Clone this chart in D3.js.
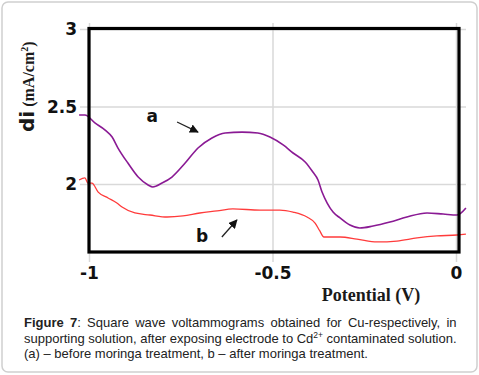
<!DOCTYPE html>
<html><head><meta charset="utf-8">
<script src="https://cdn.jsdelivr.net/npm/d3@7/dist/d3.min.js"></script>
<style>body{margin:0;background:#fff}svg{display:block}</style>
</head><body>
<svg id="c" width="479" height="375"></svg>
<script>
// ---- data ----
const xTicks = [-1, -0.5, 0];
const xTickLabels = ["-1", "-0.5", "0"];
const yTicks = [2, 2.5, 3];
const yTickLabels = ["2", "2.5", "3"];
const seriesNames = ["a", "b"];
const potentialA = [-1.027,-1.011,-0.984,-0.956,-0.937,-0.921,-0.894,-0.866,-0.839,-0.826,
  -0.801,-0.774,-0.738,-0.703,-0.665,-0.629,-0.583,-0.540,-0.507,-0.471,
  -0.444,-0.411,-0.390,-0.376,-0.365,-0.351,-0.335,-0.316,-0.289,-0.262,
  -0.226,-0.180,-0.134,-0.079,-0.035,0.003,0.027];
const currentA = [2.445,2.445,2.394,2.348,2.303,2.232,2.135,2.045,1.994,1.981,
  2.006,2.045,2.135,2.232,2.297,2.329,2.335,2.329,2.303,2.252,
  2.200,2.142,2.077,2.026,1.948,1.877,1.819,1.781,1.735,1.716,
  1.729,1.755,1.787,1.813,1.806,1.800,1.845];
const potentialB = [-1.027,-1.011,-1.003,-0.992,-0.975,-0.948,-0.924,-0.910,-0.875,-0.834,
  -0.787,-0.744,-0.698,-0.651,-0.608,-0.534,-0.480,-0.444,-0.406,-0.384,
  -0.371,-0.360,-0.316,-0.270,-0.215,-0.161,-0.106,-0.052,0.003,0.027];
const currentB = [2.026,2.039,2.006,2.006,1.948,1.910,1.877,1.852,1.813,1.800,
  1.787,1.794,1.813,1.826,1.839,1.832,1.832,1.819,1.787,1.748,
  1.697,1.658,1.658,1.645,1.626,1.632,1.652,1.665,1.671,1.677];
// annotation anchors in data units: [labelX, labelY, arrowX1, arrowY1, arrowX2, arrowY2]
const annotA = [-0.828, 2.40, -0.760, 2.40, -0.703, 2.335];
const annotB = [-0.692, 1.626, -0.638, 1.658, -0.597, 1.768];
const xTitle = "Potential (V)";
const captionLines = [
  [{t:"Figure 7", b:true}, {t:": Square wave voltammograms obtained for Cu-respectively, in"}],
  [{t:"supporting solution, after exposing electrode to Cd"}, {t:"2+", sup:true}, {t:" contaminated solution."}],
  [{t:"(a) \u2013 before moringa treatment, b \u2013 after moringa treatment."}]
];

// ---- drawing ----
const svg = d3.select("#c");
const x = d3.scaleLinear().domain([-1, 0]).range([89, 456]);
const y = d3.scaleLinear().domain([2, 3]).range([184, 29]);
const box = {l: 89, r: 459, t: 28.5, b: 252};
const tickFont = "'DejaVu Sans', Verdana, sans-serif";

// outer rounded frame
svg.append("rect").attr("x", 2).attr("y", 2).attr("width", 475).attr("height", 370)
  .attr("rx", 6).attr("fill", "#fff").attr("stroke", "#cfcfcf").attr("stroke-width", 1.5);

// y axis with gridlines
const gy = svg.append("g").attr("transform", "translate(80,0)")
  .call(d3.axisLeft(y).tickValues(yTicks).tickSize(-386).tickPadding(3)
    .tickFormat((d, i) => yTickLabels[i]));
gy.select(".domain").remove();
gy.selectAll("line").attr("stroke", "#d9d9d9").attr("stroke-width", 1.5);
gy.selectAll("text").attr("font-family", tickFont).attr("font-weight", "bold")
  .attr("font-size", 17).attr("fill", "#111").attr("dy", "0.33em");

// x axis with gridlines
const gx = svg.append("g").attr("transform", "translate(0,23)")
  .call(d3.axisBottom(x).tickValues(xTicks).tickSize(239).tickPadding(5)
    .tickFormat((d, i) => xTickLabels[i]));
gx.select(".domain").remove();
gx.selectAll("line").attr("stroke", "#d9d9d9").attr("stroke-width", 1.5);
gx.selectAll("text").attr("font-family", tickFont).attr("font-weight", "bold")
  .attr("font-size", 17).attr("fill", "#111");

// curves
const line = d3.line().x(d => x(d[0])).y(d => y(d[1])).curve(d3.curveMonotoneX);
svg.append("path").datum(potentialB.map((p, i) => [p, currentB[i]]))
  .attr("d", line).attr("fill", "none").attr("stroke", "#ff3b3b").attr("stroke-width", 1.3);
svg.append("path").datum(potentialA.map((p, i) => [p, currentA[i]]))
  .attr("d", line).attr("fill", "none").attr("stroke", "#8a1a94").attr("stroke-width", 1.6);

// black box
svg.append("rect").attr("x", box.l).attr("y", box.t).attr("width", box.r - box.l)
  .attr("height", box.b - box.t).attr("fill", "none").attr("stroke", "#000").attr("stroke-width", 3.2);

// arrows + labels
svg.append("defs").append("marker").attr("id", "ah").attr("viewBox", "0 0 10 10")
  .attr("refX", 9).attr("refY", 5).attr("markerWidth", 9).attr("markerHeight", 9)
  .attr("markerUnits", "userSpaceOnUse").attr("orient", "auto")
  .append("path").attr("d", "M0,0 L10,5 L0,10 z").attr("fill", "#111");
[annotA, annotB].forEach((a, i) => {
  svg.append("text").attr("x", x(a[0])).attr("y", y(a[1])).attr("text-anchor", "middle")
    .attr("font-family", tickFont).attr("font-weight", "bold").attr("font-size", 17)
    .attr("fill", "#111").text(seriesNames[i]);
  svg.append("line").attr("x1", x(a[2])).attr("y1", y(a[3])).attr("x2", x(a[4])).attr("y2", y(a[5]))
    .attr("stroke", "#222").attr("stroke-width", 1.3).attr("marker-end", "url(#ah)");
});

// y title
const yt = svg.append("text").attr("transform", "translate(34,132) rotate(-90)")
  .attr("fill", "#1a1a1a");
yt.append("tspan").attr("font-family", tickFont).attr("font-weight", "bold").attr("font-size", 20).text("di");
yt.append("tspan").attr("font-family", "'Liberation Serif', 'Times New Roman', serif").attr("font-weight", "bold")
  .attr("font-size", 16).text(" (mA/cm");
yt.append("tspan").attr("font-family", "'Liberation Serif', serif").attr("font-weight", "bold")
  .attr("font-size", 10).attr("dy", -6).text("2");
yt.append("tspan").attr("font-family", "'Liberation Serif', serif").attr("font-weight", "bold")
  .attr("font-size", 16).attr("dy", 6).text(")");

// x title
svg.append("text").attr("x", 371).attr("y", 301).attr("text-anchor", "middle")
  .attr("font-family", "'Liberation Serif', 'Times New Roman', serif").attr("font-weight", "bold")
  .attr("font-size", 18).attr("fill", "#1a1a1a").text(xTitle);

// caption (justified first two lines)
const capX = 24, capW = 432.5;
captionLines.forEach((segs, i) => {
  const t = svg.append("text").attr("x", capX).attr("y", 327 + i * 15.5)
    .attr("font-family", "'Liberation Sans', Arial, sans-serif").attr("font-size", 13).attr("fill", "#222");
  segs.forEach(s => {
    const ts = t.append("tspan").text(s.t);
    if (s.b) ts.attr("font-weight", "bold");
    if (s.sup) ts.attr("font-size", 8.5).attr("dy", -5);
  });
  // restore baseline after superscript
  t.selectAll("tspan").each(function(d, k, arr) {
    if (k > 0 && segs[k - 1].sup) d3.select(this).attr("dy", 5);
  });
  if (i < 2) {
    const w = t.node().getComputedTextLength();
    const spaces = segs.map(s => s.t).join("").split(" ").length - 1;
    t.attr("word-spacing", ((capW - w) / spaces).toFixed(3));
  }
});
</script>
</body></html>
